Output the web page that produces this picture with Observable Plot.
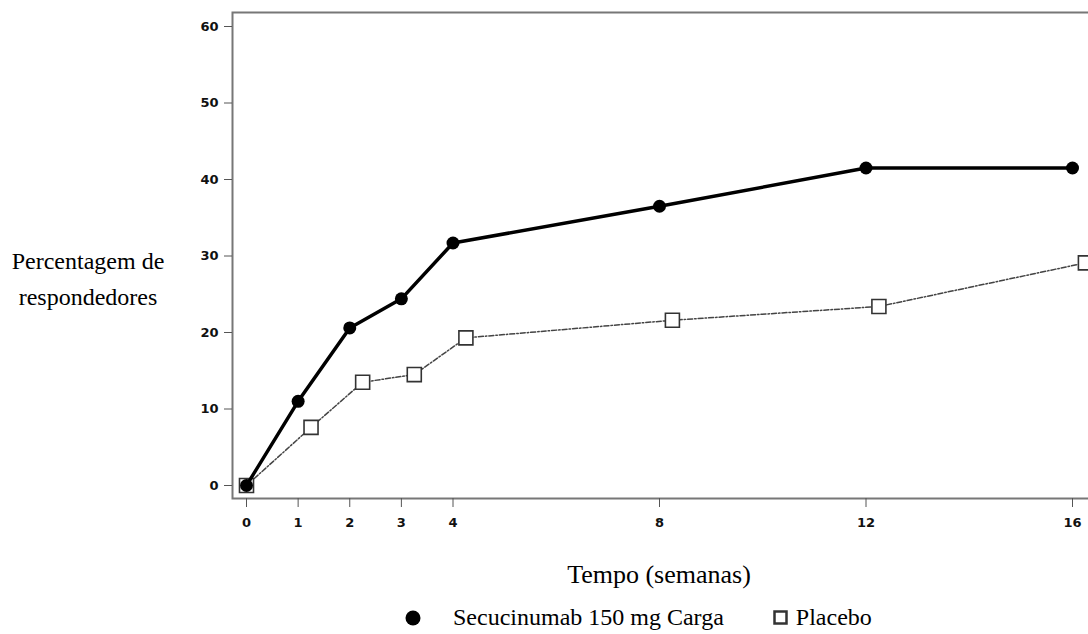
<!DOCTYPE html>
<html>
<head>
<meta charset="utf-8">
<script src="https://cdn.jsdelivr.net/npm/d3@7"></script>
<script src="https://cdn.jsdelivr.net/npm/@observablehq/plot@0.6"></script>
<style>
  html, body { margin: 0; padding: 0; width: 1088px; height: 634px; overflow: hidden; background: #fff; }
  #wrap { position: relative; width: 1088px; height: 634px; overflow: hidden; }
  #chart { width: 1100px; }
  #chart svg { max-width: none !important; display: block; }
  .serif { font-family: "Liberation Serif", "Times New Roman", serif; font-size: 24px; color: #000; position: absolute; white-space: nowrap; }
  #ylab { left: 8px; top: 243px; width: 160px; text-align: center; line-height: 36px; }
  #xlab { left: 509px; top: 560px; width: 300px; text-align: center; font-size: 26px; }
  #legend { left: 400px; top: 604px; display: flex; align-items: center; }
  #legend svg { display: block; }
</style>
</head>
<body>
<div id="wrap">
  <div id="chart"></div>
  <div id="ylab" class="serif">Percentagem de<br>respondedores</div>
  <div id="xlab" class="serif">Tempo (semanas)</div>
  <div id="legend" class="serif"></div>
</div>
<script>
// ---- data ----
const weeks = [0, 1, 2, 3, 4, 8, 12, 16];
const secucinumab = [0, 11.0, 20.6, 24.4, 31.7, 36.5, 41.5, 41.5];
const placeboWeeks = [0, 1.25, 2.25, 3.25, 4.25, 8.25, 12.25, 16.25];
const placebo = [0, 7.6, 13.5, 14.5, 19.3, 21.6, 23.4, 29.1];
const xTicks = [0, 1, 2, 3, 4, 8, 12, 16];
const yTicks = [0, 10, 20, 30, 40, 50, 60];
const seriesNames = ["Secucinumab 150 mg Carga", "Placebo"];

const secData = weeks.map((w, i) => ({x: w, y: secucinumab[i]}));
const plaData = placeboWeeks.map((w, i) => ({x: w, y: placebo[i]}));

const chart = Plot.plot({
  width: 1100,
  height: 540,
  marginLeft: 232,
  marginTop: 12,
  marginRight: 0,
  marginBottom: 42,
  style: {fontFamily: "'DejaVu Sans', sans-serif", fontSize: "13px", fontWeight: "bold", color: "#111", background: "transparent"},
  x: {domain: [0, 16], range: [246, 1072], label: null},
  y: {domain: [0, 60], range: [485, 26], label: null},
  marks: [
    Plot.frame({stroke: "#777", strokeWidth: 2}),
    Plot.axisX(xTicks, {tickSize: 9, tickPadding: 10, stroke: "#555", fill: "#111", label: null}),
    Plot.axisY(yTicks, {tickSize: 8, tickPadding: 6, stroke: "#555", fill: "#111", label: null}),
    Plot.line(plaData, {x: "x", y: "y", stroke: "#444", strokeWidth: 1.5, strokeDasharray: "5,2,1.5,2", curve: "linear"}),
    Plot.dot(plaData, {x: "x", y: "y", symbol: "square", r: 7.9, fill: "white", stroke: "#333", strokeWidth: 1.6}),
    Plot.line(secData, {x: "x", y: "y", stroke: "#000", strokeWidth: 3.5, curve: "linear"}),
    Plot.dot(secData, {x: "x", y: "y", r: 6.5, fill: "#000"})
  ]
});
document.getElementById("chart").appendChild(chart);

// legend
const legend = document.getElementById("legend");
legend.innerHTML =
  `<svg width="26" height="20"><circle cx="13" cy="10" r="7.5" fill="#000"/></svg>` +
  `<span style="margin-left:27px">${seriesNames[0]}</span>` +
  `<svg width="18" height="20" style="margin-left:48px"><rect x="2.5" y="3.5" width="12" height="12" fill="#fff" stroke="#333" stroke-width="2.5"/></svg>` +
  `<span style="margin-left:6px">${seriesNames[1]}</span>`;
</script>
</body>
</html>
